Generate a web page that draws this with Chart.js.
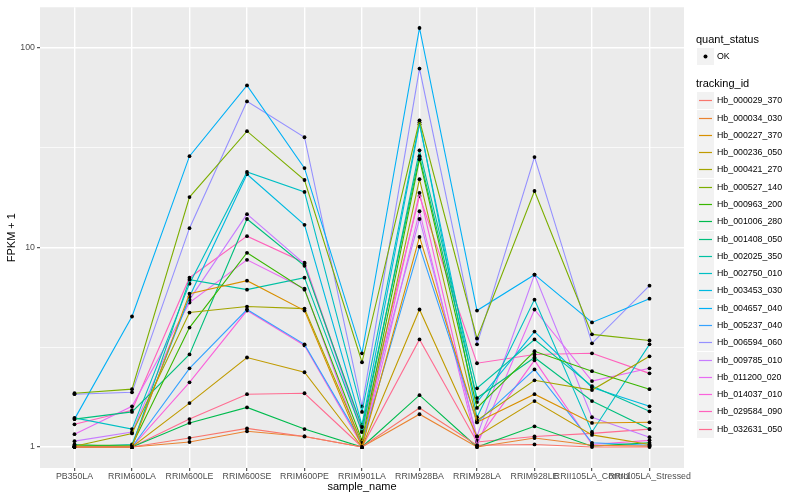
<!DOCTYPE html>
<html>
<head>
<meta charset="utf-8">
<script src="https://cdn.jsdelivr.net/npm/chart.js@4.4.1/dist/chart.umd.min.js"></script>
<style>
  body { margin: 0; background: #fff; font-family: "Liberation Sans", Arial, sans-serif; }
  #wrap { position: relative; width: 800px; height: 500px; }
  #legend { position: absolute; left: 0; top: 0; width: 800px; height: 500px; pointer-events: none; }
  .ttl { position: absolute; left: 696px; font-size: 11px; color: #000; line-height: 13px; }
  .lab { position: absolute; left: 717px; font-size: 8.8px; color: #000; line-height: 11px; }
</style>
</head>
<body>
<div id="wrap">
  <canvas id="chart_fpkm" width="800" height="500"></canvas>
  <div id="legend"></div>
</div>
<script>
var samples = ['PB350LA', 'RRIM600LA', 'RRIM600LE', 'RRIM600SE', 'RRIM600PE', 'RRIM901LA',
               'RRIM928BA', 'RRIM928LA', 'RRIM928LE', 'RRII105LA_Control', 'RRII105LA_Stressed'];

var trackingIds = ['Hb_000029_370', 'Hb_000034_030', 'Hb_000227_370', 'Hb_000236_050', 'Hb_000421_270',
                   'Hb_000527_140', 'Hb_000963_200', 'Hb_001006_280', 'Hb_001408_050', 'Hb_002025_350',
                   'Hb_002750_010', 'Hb_003453_030', 'Hb_004657_040', 'Hb_005237_040', 'Hb_006594_060',
                   'Hb_009785_010', 'Hb_011200_020', 'Hb_014037_010', 'Hb_029584_090', 'Hb_032631_050'];

var colors = ['#F8766D', '#EA8331', '#D89000', '#C09B00', '#A3A500', '#7CAE00', '#39B600', '#00BB4E',
              '#00BF7D', '#00C1A3', '#00BFC4', '#00BAE0', '#00B0F6', '#35A2FF', '#9590FF', '#C77CFF',
              '#E76BF3', '#FA62DB', '#FF62BC', '#FF6C91'];

// FPKM + 1 per sample, one array per tracking id
var hb_000029_370 = [1.00, 1.00, 1.11, 1.24, 1.13, 1.00, 1.57, 1.02, 1.03, 1.00, 1.00];
var hb_000034_030 = [1.00, 1.00, 1.06, 1.20, 1.13, 1.00, 1.46, 1.00, 1.11, 1.02, 1.01];
var hb_000227_370 = [1.00, 1.00, 5.87, 6.82, 4.83, 1.00, 11.3, 1.33, 1.84, 1.32, 1.33];
var hb_000236_050 = [1.00, 1.00, 1.66, 2.81, 2.37, 1.00, 4.89, 1.13, 1.70, 1.15, 1.03];
var hb_000421_270 = [1.01, 1.17, 4.72, 5.06, 4.94, 1.05, 22.0, 1.36, 2.16, 1.93, 2.85];
var hb_000527_140 = [1.86, 1.95, 17.9, 38.3, 21.8, 2.66, 43.4, 3.50, 19.2, 3.67, 3.42];
var hb_000963_200 = [1.02, 1.02, 3.97, 9.41, 6.15, 1.08, 27.7, 1.57, 3.02, 2.40, 1.95];
var hb_001006_280 = [1.00, 1.00, 1.32, 1.58, 1.23, 1.00, 1.82, 1.00, 1.27, 1.01, 1.05];
var hb_001408_050 = [1.38, 1.50, 2.91, 13.9, 8.10, 1.26, 28.7, 1.76, 2.81, 1.70, 1.23];
var hb_002025_350 = [1.03, 1.00, 6.90, 6.15, 7.06, 1.19, 30.7, 1.97, 3.46, 2.02, 1.51];
var hb_002750_010 = [1.40, 1.23, 6.59, 23.9, 19.0, 1.50, 42.4, 1.41, 5.48, 1.19, 3.27];
var hb_003453_030 = [1.00, 1.03, 5.67, 23.3, 13.0, 1.29, 41.5, 1.68, 3.79, 1.99, 1.60];
var hb_004657_040 = [1.38, 4.51, 28.7, 64.9, 25.0, 2.95, 126, 4.83, 7.31, 4.21, 5.54];
var hb_005237_040 = [1.00, 1.00, 2.48, 4.89, 3.27, 1.05, 10.1, 1.33, 2.45, 1.05, 1.02];
var hb_006594_060 = [1.84, 1.88, 12.5, 54.0, 35.7, 1.60, 78.9, 3.27, 28.4, 3.31, 6.44];
var hb_009785_010 = [1.07, 1.19, 5.48, 14.7, 8.29, 1.19, 13.9, 1.13, 7.31, 1.41, 1.12];
var hb_011200_020 = [1.16, 1.60, 5.30, 8.68, 6.22, 1.00, 15.2, 1.02, 4.89, 2.14, 2.48];
var hb_014037_010 = [1.00, 1.00, 2.11, 4.83, 3.23, 1.02, 18.8, 1.08, 2.72, 1.03, 1.08];
var hb_029584_090 = [1.30, 1.53, 7.06, 11.4, 8.39, 1.22, 18.1, 2.63, 2.91, 2.95, 2.34];
var hb_032631_050 = [1.00, 1.00, 1.38, 1.84, 1.86, 1.00, 3.46, 1.06, 1.13, 1.17, 1.23];

var seriesValues = [hb_000029_370, hb_000034_030, hb_000227_370, hb_000236_050, hb_000421_270,
                    hb_000527_140, hb_000963_200, hb_001006_280, hb_001408_050, hb_002025_350,
                    hb_002750_010, hb_003453_030, hb_004657_040, hb_005237_040, hb_006594_060,
                    hb_009785_010, hb_011200_020, hb_014037_010, hb_029584_090, hb_032631_050];

var yTicks = [1, 3.1623, 10, 31.623, 100];
var yLabels = [1, 10, 100];

function isMajor(v) {
    return yLabels.some(function(m) { return Math.abs(m - v) < 1e-6; });
}

var datasets = [];
for (var i = 0; i < trackingIds.length; ++i) {
    datasets.push({
        label: trackingIds[i],
        data: seriesValues[i].map(function(v, k) { return {x: k, y: v}; }),
        borderColor: colors[i],
        backgroundColor: colors[i],
        borderWidth: 1.1,
        pointRadius: 1.9,
        pointBorderWidth: 0,
        pointBackgroundColor: '#000',
        tension: 0,
        fill: false
    });
}

// key rows of the legend (text is html, swatches drawn here)
function keyCenter(j) { return Math.round(100.3 + 17.28 * j); }

// grey panel like ggplot + legend swatches
var panelBg = {
    id: 'panelBg',
    beforeDraw: function(chart) {
        var a = chart.chartArea, ctx = chart.ctx;
        ctx.save();
        ctx.fillStyle = '#EBEBEB';
        ctx.fillRect(a.left, a.top, a.right - a.left, a.bottom - a.top);
        ctx.restore();
    },
    afterDraw: function(chart) {
        var ctx = chart.ctx;
        ctx.save();
        ctx.fillStyle = '#F2F2F2';
        ctx.fillRect(697, 48, 17, 17);
        ctx.fillStyle = '#000';
        ctx.beginPath();
        ctx.arc(705.5, 56.5, 2, 0, Math.PI * 2);
        ctx.fill();
        for (var j = 0; j < trackingIds.length; ++j) {
            var cy = keyCenter(j);
            ctx.fillStyle = '#F2F2F2';
            ctx.fillRect(697, cy - 8, 17, 17);
            ctx.strokeStyle = colors[j];
            ctx.lineWidth = 1.2;
            ctx.beginPath();
            ctx.moveTo(699, cy + 0.5);
            ctx.lineTo(712, cy + 0.5);
            ctx.stroke();
        }
        ctx.restore();
    }
};

var tickFont = {family: '"Liberation Sans", Arial, sans-serif', size: 8.8};
var titleFont = {family: '"Liberation Sans", Arial, sans-serif', size: 11};

new Chart(document.getElementById('chart_fpkm'), {
    type: 'line',
    data: { datasets: datasets },
    plugins: [panelBg],
    options: {
        responsive: false,
        animation: false,
        layout: { padding: { top: 5, right: 116, left: 0, bottom: 0 } },
        plugins: { legend: { display: false }, tooltip: { enabled: false } },
        scales: {
            x: {
                type: 'linear',
                min: -0.6,
                max: 10.6,
                afterBuildTicks: function(scale) {
                    scale.ticks = samples.map(function(s, k) { return {value: k}; });
                },
                afterFit: function(scale) { scale.height = 32; },
                border: { display: false },
                grid: { color: '#FFFFFF', lineWidth: 1.4, tickLength: 3, tickColor: '#333333', tickWidth: 1 },
                ticks: {
                    autoSkip: false, maxRotation: 0, minRotation: 0, padding: 0,
                    color: '#4D4D4D', font: tickFont,
                    callback: function(value) { return samples[value]; }
                },
                title: { display: true, text: 'sample_name', color: '#000', font: titleFont,
                         padding: { top: 0, bottom: 6 } }
            },
            y: {
                type: 'logarithmic',
                min: 0.785,
                max: 160,
                afterBuildTicks: function(scale) {
                    scale.ticks = yTicks.map(function(v) { return {value: v}; });
                },
                afterFit: function(scale) { scale.width = 40; },
                border: { display: false },
                grid: {
                    color: '#FFFFFF',
                    lineWidth: function(ctx) { return ctx.tick && isMajor(ctx.tick.value) ? 1.4 : 0.7; },
                    tickLength: 3,
                    tickColor: function(ctx) { return ctx.tick && isMajor(ctx.tick.value) ? '#333333' : 'rgba(0,0,0,0)'; },
                    tickWidth: 1
                },
                ticks: {
                    padding: 2, color: '#4D4D4D', font: tickFont,
                    callback: function(value) { return isMajor(value) ? String(Math.round(value)) : ''; }
                },
                title: { display: true, text: 'FPKM + 1', color: '#000', font: titleFont,
                         padding: { top: 5, bottom: 0 } }
            }
        }
    }
});

// legend text: quant_status + tracking_id
var legend = document.getElementById('legend');
function add(cls, top, html) {
    var d = document.createElement('div');
    d.className = cls;
    d.style.top = top + 'px';
    d.innerHTML = html;
    legend.appendChild(d);
    return d;
}
add('ttl', 33, 'quant_status');
add('lab', 51, 'OK');
add('ttl', 77, 'tracking_id');
for (var j = 0; j < trackingIds.length; ++j) {
    add('lab', keyCenter(j) - 5, trackingIds[j]);
}
</script>
</body>
</html>
